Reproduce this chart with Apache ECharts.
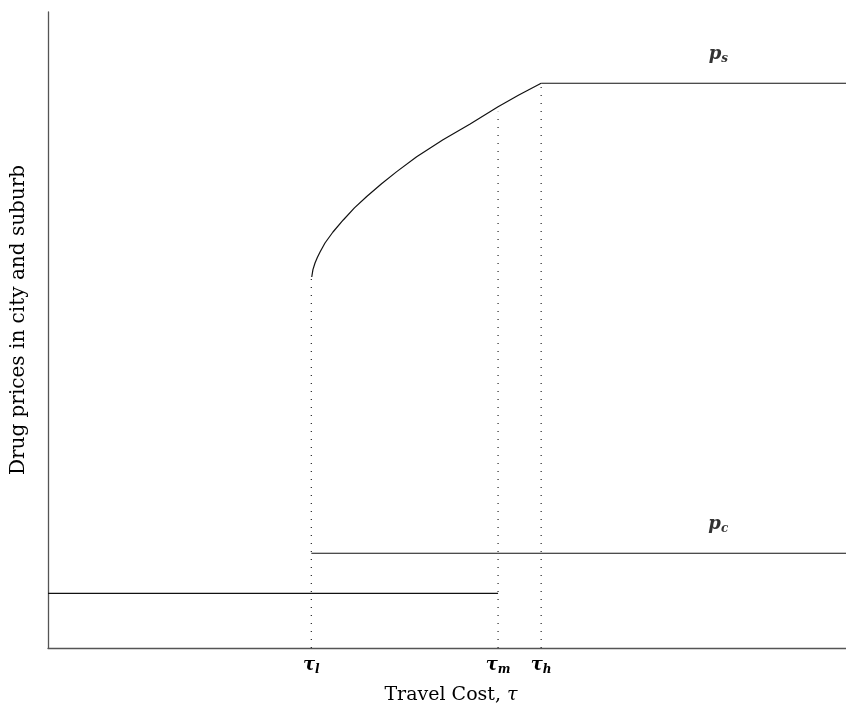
<!DOCTYPE html>
<html>
<head>
<meta charset="utf-8">
<script src="https://cdn.jsdelivr.net/npm/echarts@6/dist/echarts.min.js"></script>
<style>html,body{margin:0;padding:0;background:#fff}#c{width:846px;height:709px}</style>
</head>
<body>
<div id="c"></div>
<script>
// Tick positions and labels on the travel-cost axis
const tickValues = [33, 56.4, 61.8];
const tickSubs = ['l', 'm', 'h'];

// Lower city price (before tau_m)
const lowX = [0, 56.4];
const lowY = [8.6, 8.6];
// City price p_c (after tau_l)
const pcX = [33, 100];
const pcY = [14.9, 14.9];
// Suburb price curve between tau_l and tau_h
const curveX = [33.05, 33.2, 33.46, 33.75, 34.09, 34.71, 35.71, 37.0, 38.4, 39.94, 41.8, 43.7, 46.2, 49.5, 52.9, 56.4, 59.0, 61.8];
const curveY = [58.33, 59.5, 60.53, 61.4, 62.26, 63.68, 65.41, 67.3, 69.2, 71.0, 73.0, 74.9, 77.25, 79.9, 82.4, 85.1, 86.95, 88.8];
// Flat suburb price p_s
const psX = [61.8, 100];
const psY = [88.8, 88.8];
// Dotted guide tops
const guideX = [33, 56.4, 61.8];
const guideTop = [58.2, 84.3, 88.8];
// Series labels
const seriesLabels = [
  {x: 84, y: 93.2, sub: 's'},
  {x: 84, y: 19.3, sub: 'c'}
];

const FONT = 'DejaVu Serif';
const lineStyle = {color: '#111', width: 1.2};
const zip = (xs, ys) => xs.map((x, i) => [x, ys[i]]);

const series = [];
series.push({type: 'line', data: zip(lowX, lowY), showSymbol: false, lineStyle});
series.push({type: 'line', data: zip(pcX, pcY), showSymbol: false, lineStyle});
series.push({type: 'line', data: zip(curveX, curveY), showSymbol: false, smooth: false, lineStyle});
series.push({type: 'line', data: zip(psX, psY), showSymbol: false, lineStyle});
guideX.forEach((gx, i) => {
  series.push({type: 'line', data: [[gx, 0], [gx, guideTop[i]]], showSymbol: false,
    lineStyle: {color: '#333', width: 1.3, type: [1, 7]}});
});
series.push({
  type: 'scatter', symbolSize: 0,
  data: seriesLabels.map(d => ({value: [d.x, d.y], sub: d.sub})),
  label: {
    show: true, position: 'inside',
    formatter: p => '{p|p}{s|' + p.data.sub + '}',
    rich: {
      p: {fontFamily: FONT, fontStyle: 'italic', fontWeight: 'bold', fontSize: 18, color: '#000', verticalAlign: 'top', lineHeight: 20},
      s: {fontFamily: FONT, fontStyle: 'italic', fontWeight: 'bold', fontSize: 12, color: '#000', verticalAlign: 'bottom', lineHeight: 12}
    },
    lineHeight: 24
  }
});

const chart = echarts.init(document.getElementById('c'));
chart.setOption({
  animation: false,
  backgroundColor: '#fff',
  grid: {left: 48, right: 0, top: 12, bottom: 61, containLabel: false, outerBoundsMode: 'none'},
  xAxis: {
    type: 'value', min: 0, max: 100,
    name: 'Travel Cost, {i|τ}', nameLocation: 'middle', nameGap: 38,
    nameTextStyle: {
      fontFamily: FONT, fontSize: 19, color: '#000', padding: [0, 0, 0, 8],
      rich: {i: {fontFamily: FONT, fontSize: 19, fontStyle: 'italic', color: '#000'}}
    },
    axisLine: {show: true, onZero: false, lineStyle: {color: '#555', width: 1.3}},
    axisTick: {show: false},
    splitLine: {show: false},
    axisLabel: {
      customValues: tickValues,
      margin: 8,
      formatter: v => {
        const i = tickValues.indexOf(v);
        return '{t|τ}{s|' + (i >= 0 ? tickSubs[i] : '') + '}';
      },
      rich: {
        t: {fontFamily: FONT, fontStyle: 'italic', fontWeight: 'bold', fontSize: 18, color: '#000', verticalAlign: 'top', lineHeight: 20},
        s: {fontFamily: FONT, fontStyle: 'italic', fontWeight: 'bold', fontSize: 12, color: '#000', verticalAlign: 'bottom', lineHeight: 12}
      }
    }
  },
  yAxis: {
    type: 'value', min: 0, max: 100,
    name: 'Drug prices in city and suburb', nameLocation: 'middle', nameGap: 19,
    nameTextStyle: {fontFamily: FONT, fontSize: 20, color: '#000', padding: [0, 0, 0, 20]},
    axisLine: {show: true, onZero: false, lineStyle: {color: '#555', width: 1.3}},
    axisTick: {show: false},
    axisLabel: {show: false},
    splitLine: {show: false}
  },
  series
});
</script>
</body>
</html>
